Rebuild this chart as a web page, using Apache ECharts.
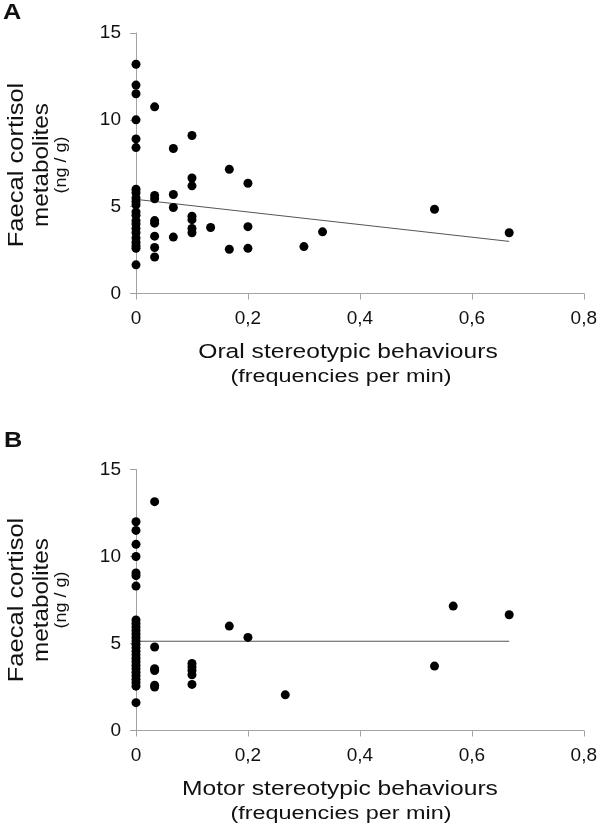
<!DOCTYPE html>
<html>
<head>
<meta charset="utf-8">
<script src="https://cdn.jsdelivr.net/npm/echarts@6/dist/echarts.min.js"></script>
<style>html,body{margin:0;padding:0;background:#fff;}#c{width:600px;height:828px;}</style>
</head>
<body>
<div id="c"></div>
<script>
// ---- Data ----
// Panel A: oral stereotypic behaviours (frequencies per min) vs faecal cortisol metabolites (ng/g)
var oralX = [
  0,0,0,0,0,0,0,0,0,0,0,0,0,0,0,0,0,0,0,0,0,0,
  0.0333,0.0333,0.0333,0.0333,0.0333,0.0333,0.0333,0.0333,
  0.0667,0.0667,0.0667,0.0667,
  0.1,0.1,0.1,0.1,0.1,0.1,0.1,
  0.1333,
  0.1667,0.1667,
  0.2,0.2,0.2,
  0.3,
  0.3333,
  0.5333,
  0.6667
];
var oralY = [
  13.2,12.0,11.5,10.0,8.9,8.4,6.0,5.8,5.5,5.3,5.1,4.7,4.5,4.2,4.0,3.75,3.5,3.2,2.95,2.75,2.6,1.65,
  10.75,5.65,5.45,4.2,4.05,3.3,2.65,2.1,
  8.35,5.7,4.95,3.25,
  9.1,6.65,6.2,4.45,4.25,3.75,3.5,
  3.8,
  7.15,2.55,
  6.35,3.85,2.6,
  2.7,
  3.55,
  4.85,
  3.5
];
var oralTrendX = [0, 0.6667];
var oralTrendY = [5.42, 3.0];

// Panel B: motor stereotypic behaviours (frequencies per min) vs faecal cortisol metabolites (ng/g)
var motorX = [
  0,0,0,0,0,0,0,0,0,0,0,0,0,0,0,0,0,0,0,0,0,0,0,0,0,0,0,0,
  0.0333,0.0333,0.0333,0.0333,0.0333,0.0333,
  0.1,0.1,0.1,0.1,0.1,
  0.1667,
  0.2,
  0.2667,
  0.5333,
  0.5667,
  0.6667
];
var motorY = [
  12.0,11.5,10.7,10.0,9.05,8.9,8.3,6.35,6.15,5.95,5.75,5.55,5.35,5.15,4.95,4.75,4.55,4.35,4.15,3.95,3.75,3.55,3.35,3.15,2.95,2.75,2.55,1.6,
  13.15,4.8,3.55,3.45,2.6,2.5,
  3.85,3.65,3.45,3.2,2.65,
  6.0,
  5.35,
  2.05,
  3.7,
  7.15,
  6.65
];
var motorTrendX = [0, 0.6667];
var motorTrendY = [5.13, 5.13];

// Axis ranges / ticks
var xMin = 0, xMax = 0.8, xStep = 0.2;
var yMin = 0, yMax = 15, yStep = 5;

// Texts
var panelLabels = ['A', 'B'];
var yTitleLines = ['Faecal cortisol', 'metabolites', '(ng / g)'];
var xTitlesA = ['Oral stereotypic behaviours', '(frequencies per min)'];
var xTitlesB = ['Motor stereotypic behaviours', '(frequencies per min)'];

// ---- Build ----
function pairs(xs, ys) { return xs.map(function (x, i) { return [x, ys[i]]; }); }
var FONT = '"Liberation Sans", Arial, sans-serif';
var TXT = '#111';
var AX = '#a3a3a3';

function fmtNum(v) { return String(+(+v).toFixed(1)).replace('.', ','); }

function xAxis(gi) {
  return {
    type: 'value', gridIndex: gi, min: xMin, max: xMax, interval: xStep,
    axisLine: { show: true, onZero: false, lineStyle: { color: AX, width: 1 } },
    axisTick: { show: true, length: 6, lineStyle: { color: AX } },
    splitLine: { show: false },
    axisLabel: { color: TXT, fontFamily: FONT, fontSize: 19, margin: 16, formatter: fmtNum }
  };
}
function yAxis(gi) {
  return {
    type: 'value', gridIndex: gi, min: yMin, max: yMax, interval: yStep,
    axisLine: { show: true, onZero: false, lineStyle: { color: AX, width: 1 } },
    axisTick: { show: true, length: 6, lineStyle: { color: AX } },
    splitLine: { show: false },
    axisLabel: { color: TXT, fontFamily: FONT, fontSize: 19, margin: 15, formatter: fmtNum }
  };
}

function txt(text, x, y, size, opts) {
  opts = opts || {};
  return {
    type: 'text', x: x, y: y, rotation: opts.rot || 0, scaleX: opts.sx || 1,
    style: {
      text: text, fill: TXT, font: (opts.bold ? 'bold ' : '') + size + 'px ' + FONT,
      align: opts.align || 'center', verticalAlign: 'middle'
    }
  };
}

function yTitle(cy) {
  return [
    txt(yTitleLines[0], 17, cy, 22, { rot: Math.PI / 2, sx: 1.16 }),
    txt(yTitleLines[1], 42, cy, 22, { rot: Math.PI / 2, sx: 1.1 }),
    txt(yTitleLines[2], 62, cy, 16, { rot: Math.PI / 2, sx: 1.12 })
  ];
}

var chart = echarts.init(document.getElementById('c'), null, { renderer: 'canvas' });
chart.setOption({
  animation: false,
  backgroundColor: '#fff',
  grid: [
    { left: 136, right: 16, top: 33, height: 260.5 },
    { left: 136, right: 16, top: 469.5, height: 261 }
  ],
  xAxis: [xAxis(0), xAxis(1)],
  yAxis: [yAxis(0), yAxis(1)],
  series: [
    { type: 'line', xAxisIndex: 0, yAxisIndex: 0, data: pairs(oralTrendX, oralTrendY), showSymbol: false, symbol: 'none',
      lineStyle: { color: '#555', width: 1 }, z: 1, silent: true },
    { type: 'scatter', xAxisIndex: 0, yAxisIndex: 0, data: pairs(oralX, oralY), symbolSize: 9,
      itemStyle: { color: '#000', opacity: 1 }, z: 2 },
    { type: 'line', xAxisIndex: 1, yAxisIndex: 1, data: pairs(motorTrendX, motorTrendY), showSymbol: false, symbol: 'none',
      lineStyle: { color: '#555', width: 1 }, z: 1, silent: true },
    { type: 'scatter', xAxisIndex: 1, yAxisIndex: 1, data: pairs(motorX, motorY), symbolSize: 9,
      itemStyle: { color: '#000', opacity: 1 }, z: 2 }
  ],
  graphic: [
    txt(panelLabels[0], 3, 12.5, 22, { bold: true, align: 'left', sx: 1.15 }),
    txt(panelLabels[1], 4, 441, 22, { bold: true, align: 'left', sx: 1.15 })
  ].concat(yTitle(165)).concat(yTitle(600)).concat([
    txt(xTitlesA[0], 348, 352, 20.5, { sx: 1.2 }),
    txt(xTitlesA[1], 341, 377, 18, { sx: 1.3 }),
    txt(xTitlesB[0], 340, 789, 20.5, { sx: 1.2 }),
    txt(xTitlesB[1], 341, 814, 18, { sx: 1.3 })
  ])
});
</script>
</body>
</html>
